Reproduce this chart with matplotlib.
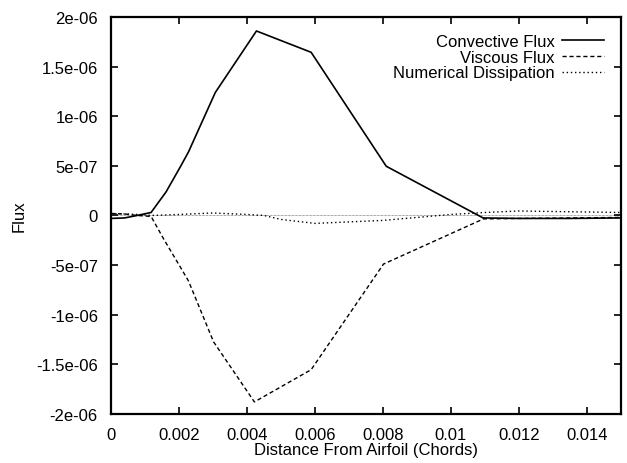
import matplotlib
matplotlib.use("Agg")
import matplotlib.pyplot as plt
from matplotlib.ticker import FixedLocator, FixedFormatter

plt.rcParams['font.family'] = ['Liberation Sans', 'DejaVu Sans']

# convective flux (solid)
conv_x = [0.0, 0.0004, 0.00077, 0.00118, 0.00162, 0.00204, 0.00228, 0.00307,
          0.00428, 0.00589, 0.0081, 0.01095, 0.012, 0.0135, 0.015]
conv_y = [-3e-08, -2.5e-08, 0.0, 3e-08, 2.37e-07, 4.9e-07, 6.4e-07, 1.24e-06,
          1.86e-06, 1.645e-06, 4.96e-07, -2.5e-08, -3e-08, -3e-08, -2.5e-08]

# viscous flux (dashed)
visc_x = [0.0, 0.0004, 0.00077, 0.00118, 0.00155, 0.00204, 0.00228, 0.00302,
          0.00422, 0.00589, 0.00802, 0.01096, 0.012, 0.0135, 0.015]
visc_y = [2e-08, 1.5e-08, 0.0, -1e-08, -2.37e-07, -5.2e-07, -6.6e-07, -1.275e-06,
          -1.88e-06, -1.555e-06, -4.9e-07, -3.5e-08, -3e-08, -2.5e-08, -2e-08]

# numerical dissipation (dotted)
diss_x = [0.0, 0.0008, 0.0012, 0.002, 0.003, 0.004, 0.0045, 0.005, 0.006,
          0.008, 0.009, 0.01, 0.011, 0.012, 0.015]
diss_y = [2e-08, 1e-08, 0.0, 1e-08, 2.5e-08, 1e-08, 0.0, -4e-08, -8e-08,
          -5e-08, -2e-08, 1e-08, 3e-08, 4.5e-08, 3e-08]

xticks = [0, 0.002, 0.004, 0.006, 0.008, 0.01, 0.012, 0.014]
xtick_labels = ["0", "0.002", "0.004", "0.006", "0.008", "0.01", "0.012", "0.014"]
yticks = [-2e-06, -1.5e-06, -1e-06, -5e-07, 0, 5e-07, 1e-06, 1.5e-06, 2e-06]
ytick_labels = ["-2e-06", "-1.5e-06", "-1e-06", "-5e-07", "0",
                "5e-07", "1e-06", "1.5e-06", "2e-06"]

fig = plt.figure(figsize=(6.27, 4.64), dpi=100)
ax = fig.add_axes([0.177, 0.106, 0.813, 0.855])

ax.axhline(0, color="black", lw=0.5, ls=(0, (1, 1)), alpha=0.7)
ax.plot(conv_x, conv_y, color="black", lw=1.2, ls="-", label="Convective Flux")
ax.plot(visc_x, visc_y, color="black", lw=1.0, ls=(0, (3, 2)), label="Viscous Flux")
ax.plot(diss_x, diss_y, color="black", lw=1.0, ls=(0, (1, 2)), label="Numerical Dissipation")

ax.set_xlim(0, 0.015)
ax.set_ylim(-2e-06, 2e-06)
ax.xaxis.set_major_locator(FixedLocator(xticks))
ax.xaxis.set_major_formatter(FixedFormatter(xtick_labels))
ax.yaxis.set_major_locator(FixedLocator(yticks))
ax.yaxis.set_major_formatter(FixedFormatter(ytick_labels))
ax.tick_params(direction="in", top=True, right=True, length=5, width=1.2,
               labelsize=12, pad=9.5)
for s in ax.spines.values():
    s.set_linewidth(1.6)

ax.set_xlabel("Distance From Airfoil (Chords)", fontsize=12, labelpad=0)
ax.set_ylabel("Flux", fontsize=12, labelpad=7)

leg = ax.legend(loc="upper right", frameon=False, markerfirst=False,
                fontsize=12, handlelength=2.5, labelspacing=0.05,
                borderaxespad=0.6, handletextpad=0.45)
for t in leg.get_texts():
    t.set_ha("right")
leg._legend_box.align = "right"

fig.savefig("out.png", dpi=100)
